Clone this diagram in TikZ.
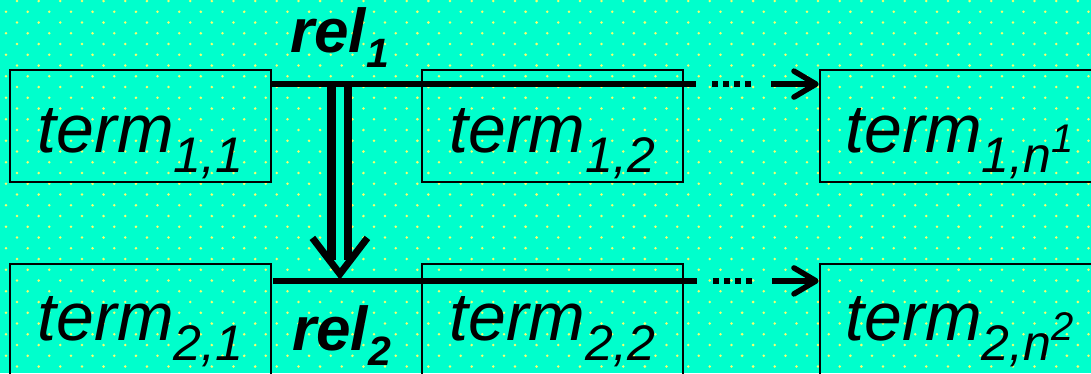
\documentclass[tikz,border=0pt]{standalone}
\usepackage{fontspec}
\setmainfont{Liberation Sans}
\usetikzlibrary{arrows.meta,positioning,calc}
\definecolor{aquabg}{RGB}{0,255,204}
\definecolor{dotyel}{RGB}{245,255,110}
\newcommand\tsub[1]{\raisebox{-20pt}{\fontsize{50}{50}\selectfont #1}}
\newcommand\tsup[1]{\raisebox{20pt}{\fontsize{40}{40}\selectfont #1}}
\newcommand\rsub[1]{\raisebox{-15pt}{\fontsize{41}{41}\selectfont #1}}

\begin{document}
\begin{tikzpicture}[
  x=1pt,y=-1pt,
  font=\fontsize{68}{68}\selectfont\itshape,
  node distance=80pt and 149pt,
  box/.style={draw,line width=1.8pt,minimum width=261pt,minimum height=112pt,inner sep=0pt,text height=62pt,text depth=10pt},
  lowbox/.style={box,text height=52pt},
  lbl/.style={font=\fontsize{62}{62}\selectfont\bfseries\itshape,inner sep=0pt,anchor=base west},
  relline/.style={line width=5.5pt,dash pattern=on 424pt off 16pt on 6pt off 5pt on 6pt off 5pt on 6pt off 5pt on 6pt off 20pt on 300pt,-{Straight Barb[length=22pt,width=26pt,round]}},
  dbl/.style={double=aquabg,double distance=8pt,line width=8.5pt},
  chev/.style={line width=7pt,line join=miter},
]
% background with dot raster
\useasboundingbox (0,0) rectangle (1091,373);
\fill[aquabg] (0,0) rectangle (1091,373);
\foreach \r in {0,...,34}{
  \pgfmathsetmacro\xo{6+11*mod(\r+1,2)}
  \foreach \c in {0,...,50}
    \fill[dotyel] (\xo+21.65*\c,1+10.75*\r) circle (1.4pt);
}

% terms
\node[box] (t11) at (140.5,126) {term\tsub{1,1}};
\node[box,right=of t11] (t12) {term\tsub{1,2}};
\node[box,right=135pt of t12,minimum width=280pt] (t1n) {term\tsub{1,n\tsup{1}}};
\node[lowbox,below=of t11] (t21) {term\tsub{2,1}};
\node[lowbox,right=of t21] (t22) {term\tsub{2,2}};
\node[lowbox,right=135pt of t22,minimum width=280pt] (t2n) {term\tsub{2,n\tsup{2}}};

% relations
\coordinate (a1) at ($(t11.north east)+(0,15)$);
\coordinate (a2) at ($(t21.north east)+(1,18)$);
\coordinate (v1) at ($(a1)+(68,3)$);
\coordinate (vt) at ($(v1 |- a2)+(0,-7)$);
\draw[dbl] (v1) -- ($(vt)+(0,-14)$);
\draw[chev] ($(vt)+(-27.5,-36)$) -- (vt) -- ($(vt)+(27.5,-36)$);
\draw[relline] (a1) -- (a1 -| t1n.west);
\draw[relline] (a2) -- (a2 -| t2n.west);

\node[lbl] (rel1) at (290,52) {rel\rsub{1}};
\node[lbl] (rel2) at (292,350) {rel\rsub{2}};
\end{tikzpicture}
\end{document}
